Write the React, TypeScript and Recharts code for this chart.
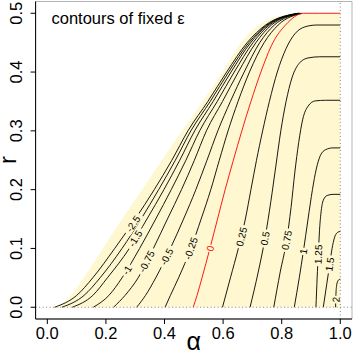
import { Area, ComposedChart, Line, ReferenceArea, ReferenceLine, Scatter, XAxis, YAxis } from 'recharts';

// plot frame
const W = 354;
const H = 354;
const M = { top: 1.5, right: 2, left: 0, bottom: 0 };
const Y_AXIS_W = 35.6;
const X_AXIS_H = 35;
const X_DOMAIN: [number, number] = [-0.04, 1.04];
const Y_DOMAIN: [number, number] = [-0.02, 0.52];
const PX_A = (W - M.right - Y_AXIS_W) / (X_DOMAIN[1] - X_DOMAIN[0]);
const PX_R = (H - M.top - X_AXIS_H) / (Y_DOMAIN[1] - Y_DOMAIN[0]);

const FONT = '"Liberation Sans", Arial, Helvetica, sans-serif';
const CREAM = '#FEF7CF';

const xTicks = [0, 0.2, 0.4, 0.6, 0.8, 1.0];
const yTicks = [0, 0.1, 0.2, 0.3, 0.4, 0.5];

// edge of the admissible region (alpha, r)
const boundary: [number, number][] = [
  [0, 0], [0.04, 0.004], [0.08, 0.02], [0.12, 0.047], [0.16, 0.077], [0.2, 0.108],
  [0.25, 0.146], [0.3, 0.183], [0.35, 0.22], [0.4, 0.257], [0.45, 0.293], [0.5, 0.328],
  [0.55, 0.364], [0.6, 0.402], [0.65, 0.442], [0.7, 0.471], [0.75, 0.488], [0.8, 0.496],
  [0.85, 0.5], [1, 0.5],
];

// contour lines as (alpha, r)
const cNeg250: [number, number][] = [
  [0.025, 0], [0.1, 0.02], [0.155, 0.05], [0.23, 0.1], [0.3, 0.15], [0.365, 0.2], [0.425, 0.25],
  [0.48, 0.3], [0.548, 0.35], [0.612, 0.4], [0.682, 0.45], [0.745, 0.48], [0.855, 0.5],
];
const cNeg200: [number, number][] = [
  [0.05, 0], [0.125, 0.02], [0.18, 0.05], [0.255, 0.1], [0.32, 0.15], [0.38, 0.2], [0.437, 0.25],
  [0.49, 0.3], [0.556, 0.35], [0.619, 0.4], [0.688, 0.45], [0.749, 0.48], [0.857, 0.5],
];
const cNeg150: [number, number][] = [
  [0.085, 0], [0.155, 0.02], [0.205, 0.05], [0.28, 0.1], [0.34, 0.15], [0.398, 0.2], [0.452, 0.25],
  [0.503, 0.3], [0.566, 0.35], [0.627, 0.4], [0.694, 0.45], [0.753, 0.48], [0.859, 0.5],
];
const cNeg100: [number, number][] = [
  [0.157, 0], [0.21, 0.02], [0.255, 0.05], [0.315, 0.1], [0.37, 0.15], [0.423, 0.2], [0.473, 0.25],
  [0.52, 0.3], [0.58, 0.35], [0.638, 0.4], [0.702, 0.45], [0.758, 0.48], [0.861, 0.5],
];
const cNeg075: [number, number][] = [
  [0.226, 0], [0.265, 0.02], [0.31, 0.05], [0.362, 0.1], [0.41, 0.15], [0.458, 0.2], [0.502, 0.25],
  [0.543, 0.3], [0.598, 0.35], [0.652, 0.4], [0.712, 0.45], [0.765, 0.48], [0.863, 0.5],
];
const cNeg050: [number, number][] = [
  [0.305, 0], [0.335, 0.02], [0.37, 0.05], [0.42, 0.1], [0.465, 0.15], [0.507, 0.2], [0.545, 0.25],
  [0.582, 0.3], [0.625, 0.35], [0.672, 0.4], [0.725, 0.45], [0.775, 0.48], [0.866, 0.5],
];
const cNeg025: [number, number][] = [
  [0.402, 0], [0.42, 0.02], [0.448, 0.05], [0.49, 0.1], [0.525, 0.15], [0.558, 0.2], [0.587, 0.25],
  [0.617, 0.3], [0.651, 0.35], [0.69, 0.4], [0.74, 0.45], [0.788, 0.48], [0.87, 0.5],
];
const cZero: [number, number][] = [
  [0.498, 0], [0.511, 0.02], [0.528, 0.05], [0.555, 0.1], [0.581, 0.15], [0.607, 0.2], [0.635, 0.25],
  [0.664, 0.3], [0.695, 0.35], [0.729, 0.4], [0.77, 0.45], [0.813, 0.48], [0.875, 0.5], [0.93, 0.5], [1, 0.5],
];
const cPos025: [number, number][] = [
  [0.598, 0], [0.625, 0.05], [0.652, 0.1], [0.676, 0.15], [0.695, 0.2], [0.714, 0.25], [0.735, 0.3],
  [0.758, 0.35], [0.785, 0.4], [0.815, 0.44], [0.845, 0.465], [0.88, 0.477], [0.92, 0.48], [1, 0.48],
];
const cPos050: [number, number][] = [
  [0.692, 0], [0.72, 0.06], [0.743, 0.117], [0.763, 0.18], [0.78, 0.24], [0.797, 0.3], [0.815, 0.35],
  [0.835, 0.39], [0.86, 0.415], [0.89, 0.424], [0.93, 0.426], [1, 0.426],
];
const cPos075: [number, number][] = [
  [0.773, 0], [0.795, 0.06], [0.817, 0.114], [0.832, 0.17], [0.845, 0.23], [0.858, 0.28], [0.872, 0.32],
  [0.89, 0.342], [0.915, 0.351], [0.95, 0.352], [1, 0.352],
];
const cPos100: [number, number][] = [
  [0.843, 0], [0.86, 0.05], [0.874, 0.095], [0.89, 0.15], [0.905, 0.2], [0.918, 0.235], [0.932, 0.258],
  [0.95, 0.268], [0.975, 0.271], [1, 0.271],
];
const cPos125: [number, number][] = [
  [0.917, 0], [0.921, 0.05], [0.925, 0.09], [0.929, 0.13], [0.934, 0.16], [0.942, 0.182], [0.955, 0.19],
  [0.975, 0.192], [1, 0.192],
];
const cPos150: [number, number][] = [
  [0.942, 0], [0.954, 0.04], [0.964, 0.073], [0.972, 0.1], [0.98, 0.118], [0.99, 0.127], [1, 0.129],
];
const cPos200: [number, number][] = [
  [0.984, 0], [0.985, 0.02], [0.987, 0.035], [0.991, 0.044], [0.996, 0.047], [1, 0.048],
];

const levels = ['-2.5', '-2', '-1.5', '-1', '-0.75', '-0.5', '-0.25', '0', '0.25', '0.5', '0.75', '1', '1.25', '1.5', '2'];
const contours = [
  cNeg250, cNeg200, cNeg150, cNeg100, cNeg075, cNeg050, cNeg025, cZero,
  cPos025, cPos050, cPos075, cPos100, cPos125, cPos150, cPos200,
];

// contour labels (text, position on the line)
const labelText = ['-2.5', '-1.5', '-1', '-0.75', '-0.5', '-0.25', '0', '0.25', '0.5', '0.75', '1', '1.25', '1.5', '2'];
const labelAlpha = [0.293, 0.3, 0.272, 0.339, 0.407, 0.49, 0.556, 0.663, 0.743, 0.817, 0.874, 0.925, 0.964, 0.985];
const labelR = [0.142, 0.117, 0.063, 0.078, 0.086, 0.1, 0.1, 0.12, 0.117, 0.114, 0.095, 0.09, 0.073, 0.013];

const toRows = (pts: [number, number][]) => pts.map(([a, r]) => ({ a, r }));
const boundaryRows = toRows(boundary);
const labelRows = labelText.map((t, i) => ({ a: labelAlpha[i], r: labelR[i], t }));

function slopeDeg(pts: [number, number][], a: number, r: number) {
  // nearest segment to the label, measured in pixels
  let best = 0;
  let bestD = Infinity;
  for (let i = 0; i < pts.length - 1; i++) {
    const mx = ((pts[i][0] + pts[i + 1][0]) / 2 - a) * PX_A;
    const my = ((pts[i][1] + pts[i + 1][1]) / 2 - r) * PX_R;
    const d = mx * mx + my * my;
    if (d < bestD) {
      bestD = d;
      best = i;
    }
  }
  const dx = (pts[best + 1][0] - pts[best][0]) * PX_A;
  const dy = -(pts[best + 1][1] - pts[best][1]) * PX_R;
  return (Math.atan2(dy, dx) * 180) / Math.PI;
}

const ContourLabel = (props: any) => {
  const { cx, cy, payload } = props;
  if (cx == null || cy == null) return null;
  const idx = levels.indexOf(payload.t);
  const deg = slopeDeg(contours[idx], payload.a, payload.r);
  const w = payload.t.length * 5.4 + 2;
  const red = payload.t === '0';
  return (
    <g transform={`translate(${cx},${cy}) rotate(${deg})`}>
      <rect x={-w / 2} y={-4.5} width={w} height={9} fill={CREAM} />
      <text x={0} y={3.6} textAnchor="middle" fontSize={10} fontFamily={FONT} fill={red ? '#FF0000' : '#000'}>
        {payload.t}
      </text>
    </g>
  );
};

const XTick = (props: any) => {
  const { x, payload } = props;
  return (
    <text x={x} y={338.5} textAnchor="middle" fontSize={16.5} fontFamily={FONT} fill="#000">
      {Number(payload.value).toFixed(1)}
    </text>
  );
};

const YTick = (props: any) => {
  const { y, payload } = props;
  return (
    <text transform={`translate(22,${y}) rotate(-90)`} textAnchor="middle" fontSize={16.5} fontFamily={FONT} fill="#000">
      {Number(payload.value).toFixed(1)}
    </text>
  );
};

export default function App() {
  return (
    <div style={{ position: 'absolute', left: 0, top: 0, width: W, height: H, background: '#fff' }}>
      <ComposedChart width={W} height={H} margin={M}>
        <XAxis
          dataKey="a"
          type="number"
          domain={X_DOMAIN}
          ticks={xTicks}
          allowDataOverflow
          height={X_AXIS_H}
          tickSize={5}
          tick={<XTick />}
          stroke="#000"
          axisLine={{ stroke: '#000' }}
          tickLine={{ stroke: '#000' }}
        />
        <YAxis
          dataKey="r"
          type="number"
          domain={Y_DOMAIN}
          ticks={yTicks}
          allowDataOverflow
          width={Y_AXIS_W}
          tickSize={5}
          tick={<YTick />}
          stroke="#000"
          axisLine={{ stroke: '#000' }}
          tickLine={{ stroke: '#000' }}
        />
        <ReferenceArea x1={X_DOMAIN[0]} x2={X_DOMAIN[1]} y1={Y_DOMAIN[0]} y2={Y_DOMAIN[1]} fill="none" stroke="#b4b4b4" />
        <Area
          data={boundaryRows}
          dataKey="r"
          type="monotone"
          baseValue={0}
          fill={CREAM}
          fillOpacity={1}
          stroke="none"
          isAnimationActive={false}
        />
        {contours.map((c, i) => (
          <Line
            key={levels[i]}
            data={toRows(c)}
            dataKey="r"
            type="monotone"
            dot={false}
            stroke={levels[i] === '0' ? '#FF0000' : '#000'}
            strokeWidth={0.9}
            isAnimationActive={false}
          />
        ))}
        <ReferenceLine y={0} stroke="#888" strokeDasharray="1 2.5" />
        <ReferenceLine x={1} stroke="#888" strokeDasharray="1 2.5" />
        <Scatter data={labelRows} dataKey="r" shape={<ContourLabel />} isAnimationActive={false} />
      </ComposedChart>
      <svg width={W} height={H} style={{ position: 'absolute', left: 0, top: 0, pointerEvents: 'none' }}>
        <text x={51.5} y={24} fontSize={16.5} fontFamily={FONT} fill="#000">
          contours of fixed ε
        </text>
        <text x={193.8} y={350} textAnchor="middle" fontSize={25} fontFamily={FONT} fill="#000">
          α
        </text>
        <text transform="translate(16,160) rotate(-90)" textAnchor="middle" fontSize={24} fontFamily={FONT} fill="#000">
          r
        </text>
      </svg>
    </div>
  );
}
